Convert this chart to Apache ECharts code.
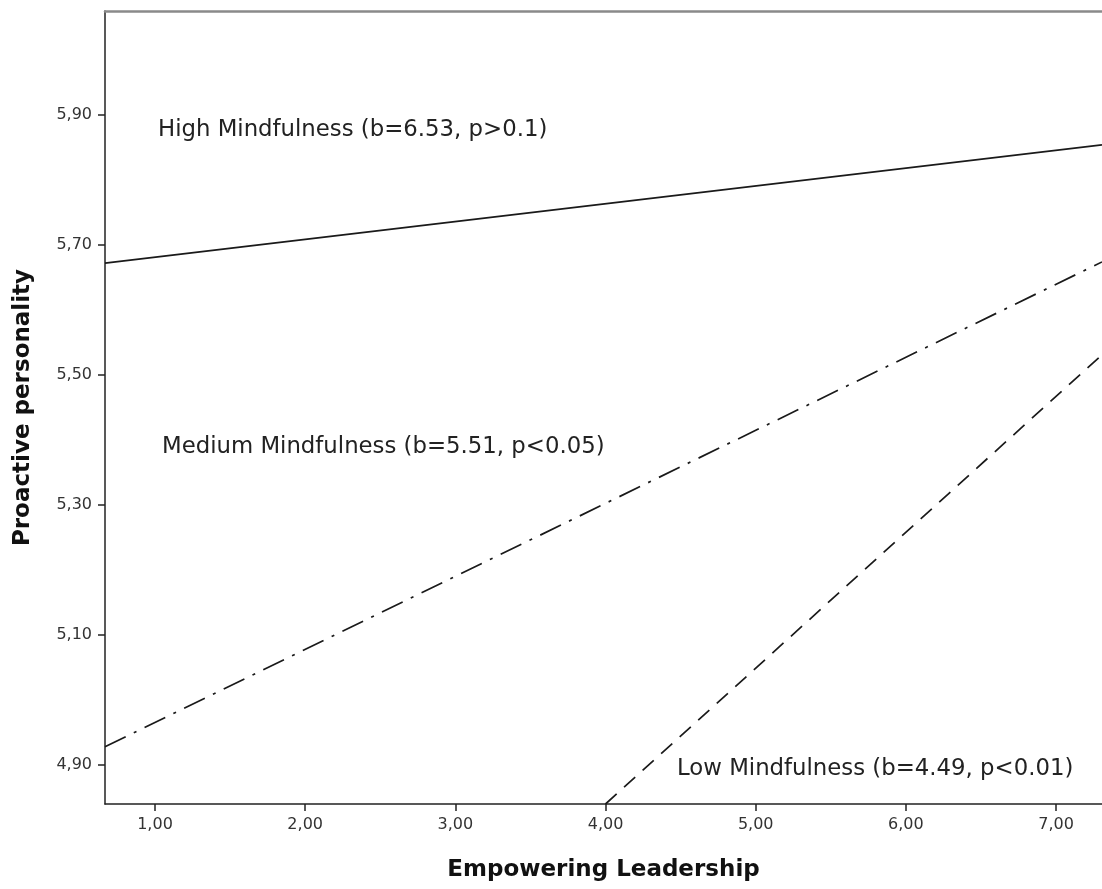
<!DOCTYPE html>
<html>
<head>
<meta charset="utf-8">
<script src="https://cdn.jsdelivr.net/npm/echarts@6/dist/echarts.min.js"></script>
<style>
  html, body { margin: 0; padding: 0; background: #fff; }
  #chart { width: 1102px; height: 889px; }
</style>
</head>
<body>
<div id="chart"></div>
<script>
// axis range and ticks
const xRange = [0.667, 7.306];
const yRange = [4.84, 6.06];
const xTicks = [1, 2, 3, 4, 5, 6, 7];
const yTicks = [4.9, 5.1, 5.3, 5.5, 5.7, 5.9];

// simple slopes (x = Empowering Leadership, y = Proactive personality)
const highLine = [[0.667, 5.672], [7.306, 5.854]];
const mediumLine = [[0.667, 4.928], [7.306, 5.674]];
const lowLine = [[4.0, 4.84], [7.306, 5.531]];

const labels = [
  'High Mindfulness (b=6.53, p>0.1)',
  'Medium Mindfulness (b=5.51, p<0.05)',
  'Low Mindfulness (b=4.49, p<0.01)'
];

let chart = echarts.init(document.getElementById('chart'));

const fmt = (v) => v.toFixed(2).replace('.', ',');
const font = 'DejaVu Sans, sans-serif';

const option = {
  animation: false,
  grid: { left: 105, right: 0, top: 11, bottom: 85 },
  xAxis: [
    {
      type: 'value',
      min: xRange[0],
      max: xRange[1],
      name: 'Empowering Leadership',
      nameLocation: 'middle',
      nameGap: 55,
      nameTextStyle: { fontFamily: font, fontWeight: 'bold', fontSize: 23, color: '#111' },
      axisLine: { lineStyle: { color: '#222', width: 1.5 } },
      axisTick: { show: true, length: 7, inside: false, customValues: xTicks, lineStyle: { color: '#222', width: 1.5 } },
      axisLabel: { customValues: xTicks, formatter: fmt, margin: 13, fontFamily: font, fontSize: 16, color: '#333' },
      splitLine: { show: false }
    },
    {
      // top frame line
      type: 'value',
      position: 'top',
      min: xRange[0],
      max: xRange[1],
      axisLine: { lineStyle: { color: '#8a8a8a', width: 2.5 } },
      axisTick: { show: false },
      axisLabel: { show: false },
      splitLine: { show: false }
    }
  ],
  yAxis: {
    type: 'value',
    min: yRange[0],
    max: yRange[1],
    name: 'Proactive personality',
    nameLocation: 'middle',
    nameRotate: 90,
    nameGap: 70,
    nameTextStyle: { fontFamily: font, fontWeight: 'bold', fontSize: 23, color: '#111' },
    axisLine: { show: true, lineStyle: { color: '#222', width: 1.5 } },
    axisTick: { show: true, length: 7, customValues: yTicks, lineStyle: { color: '#222', width: 1.5 } },
    axisLabel: { customValues: yTicks, formatter: fmt, margin: 13, fontFamily: font, fontSize: 16, color: '#333' },
    splitLine: { show: false }
  },
  series: [
    {
      name: 'High',
      type: 'line',
      data: highLine,
      symbol: 'none',
      lineStyle: { color: '#1a1a1a', width: 1.7, type: 'solid' }
    },
    {
      name: 'Medium',
      type: 'line',
      data: mediumLine,
      symbol: 'none',
      lineStyle: { color: '#1a1a1a', width: 1.7, type: [23, 9, 3, 9] }
    },
    {
      name: 'Low',
      type: 'line',
      data: lowLine,
      symbol: 'none',
      lineStyle: { color: '#1a1a1a', width: 1.7, type: [15, 10] }
    }
  ],
  graphic: [
    { type: 'text', left: 158, top: 119, style: { text: labels[0], font: '22.8px ' + font, fill: '#222' } },
    { type: 'text', left: 162, top: 436, style: { text: labels[1], font: '22.8px ' + font, fill: '#222' } },
    { type: 'text', left: 677, top: 758, style: { text: labels[2], font: '22.8px ' + font, fill: '#222' } }
  ]
};

chart.setOption(option);
</script>
</body>
</html>
